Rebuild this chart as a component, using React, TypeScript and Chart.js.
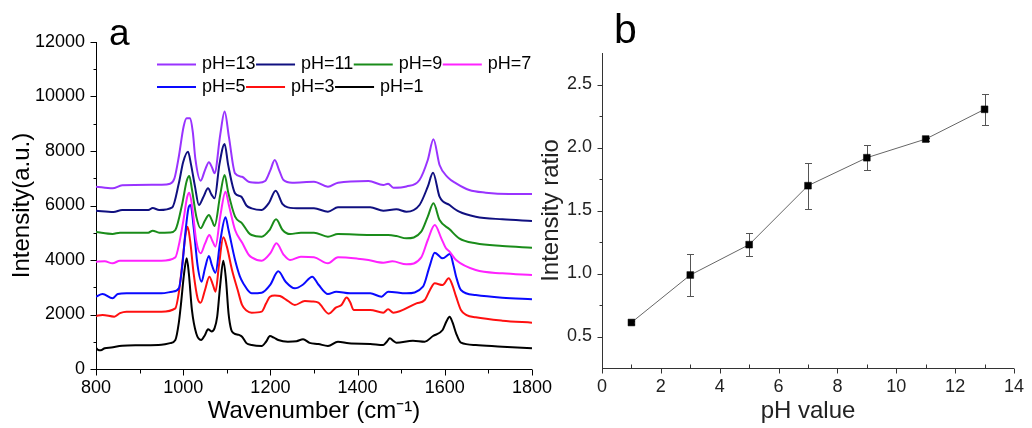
import React, { useEffect, useRef } from "react";
import { Chart, registerables } from "chart.js";
Chart.register(...registerables);

const FONT = "'Liberation Sans', Arial, Helvetica, sans-serif";

// ---------- Panel a: spectra (wavenumber, intensity) ----------
const wnPH1 = [800,805,811,820,835,860,900,950,970,982,990,995,1002,1008,1013,1020,1030,1041,1050,1057,1065,1072,1078,1085,1092,1098,1104,1110,1116,1128,1135,1145,1157,1180,1190,1199,1208,1218,1240,1260,1275,1290,1310,1332,1355,1380,1429,1459,1467,1474,1482,1489,1527,1554,1573,1595,1604,1611,1618,1626,1637,1671,1732,1800];
const intPH1 = [783,700,690,760,790,850,870,890,950,1064,1700,2400,3500,4062,3500,2166,1300,1064,1250,1456,1380,1500,1921,3100,3976,3300,2043,1450,1309,1250,1186,950,881,844,1000,1211,1150,1064,1003,1020,1089,960,918,844,1003,941,918,881,1000,1126,1030,967,1040,1003,1211,1431,1750,1921,1700,1309,967,881,820,759];

const wnPH3 = [800,815,842,855,870,950,982,990,998,1005,1010,1016,1024,1033,1040,1050,1060,1068,1074,1082,1092,1100,1112,1125,1135,1145,1157,1180,1190,1199,1210,1222,1240,1256,1279,1295,1310,1334,1350,1363,1375,1383,1391,1429,1459,1470,1482,1535,1554,1566,1577,1595,1609,1617,1626,1637,1650,1671,1732,1800];
const intPH3 = [1945,1982,1920,2050,2105,2105,2227,2800,3878,4900,5223,4700,3500,2600,2434,2900,3388,3100,2838,3800,4832,4500,3633,2900,2350,2150,2068,2105,2400,2654,2700,2678,2500,2350,2495,2480,2434,2031,2250,2350,2620,2450,2166,2166,2068,2190,2068,2410,2532,2900,3143,3082,3327,3100,2654,2166,1980,1897,1775,1701];

const wnPH5 = [800,815,838,850,870,950,975,990,998,1005,1012,1017,1024,1033,1042,1050,1059,1066,1074,1085,1097,1104,1119,1130,1138,1157,1180,1200,1218,1235,1256,1275,1296,1310,1332,1351,1383,1429,1455,1470,1512,1550,1565,1577,1595,1612,1620,1626,1637,1671,1732,1800];
const intPH5 = [2654,2752,2593,2750,2776,2776,2838,2960,3800,5000,5900,6019,5200,3800,3204,3700,4147,3800,3535,4700,5566,5100,3998,3400,3140,2776,2800,3100,3583,3200,2960,3100,3388,3100,2752,2838,2776,2776,2654,2838,2776,3020,3755,4269,4061,4220,3800,3388,2899,2715,2617,2556];

const wnPH7 = [800,820,838,855,950,982,992,1001,1009,1014,1021,1030,1040,1050,1060,1067,1074,1085,1097,1105,1119,1136,1150,1157,1180,1200,1214,1230,1245,1270,1300,1332,1355,1400,1425,1459,1480,1512,1546,1561,1577,1592,1602,1611,1626,1671,1732,1800];
const intPH7 = [3939,3950,3878,3975,3975,4098,4700,5506,6300,6471,5900,4700,4245,4600,4917,4700,4489,5600,6508,6000,5101,4612,4200,4098,3975,4250,4612,4200,3998,4122,4100,3878,4098,4050,3998,3900,3950,3841,4098,4734,5285,4795,4450,4306,3998,3631,3510,3449];

const wnPH9 = [800,838,855,920,930,945,970,982,998,1008,1014,1020,1030,1040,1050,1059,1066,1072,1085,1095,1103,1119,1135,1150,1157,1180,1198,1213,1228,1245,1270,1300,1332,1355,1429,1470,1489,1512,1546,1561,1574,1588,1611,1633,1671,1732,1800];
const intPH9 = [5028,4955,5004,5004,5077,5000,5010,5101,6079,6900,7083,6600,5600,5162,5450,5651,5450,5248,6400,7120,6500,5589,5345,5000,4917,4856,5100,5493,5100,4950,5004,5004,4856,4950,4917,4917,4880,4795,5040,5590,6081,5468,5126,4795,4612,4514,4453];

const wnPH11 = [800,840,860,920,930,945,975,990,1000,1011,1018,1027,1036,1046,1057,1065,1072,1083,1095,1103,1119,1133,1145,1157,1180,1197,1212,1228,1240,1270,1300,1332,1355,1429,1459,1489,1512,1542,1561,1573,1588,1611,1633,1671,1732,1800];
const intPH11 = [5810,5760,5834,5834,5908,5834,5932,6814,7600,7975,7500,6700,6019,6300,6630,6400,6263,7500,8258,7500,6447,6324,6000,5895,5834,6100,6545,6050,5932,5895,5895,5773,5932,5932,5810,5859,5773,6018,6691,7205,6324,6018,5773,5589,5493,5432];

const wnPH13 = [800,838,860,950,970,980,990,1001,1008,1016,1022,1028,1040,1050,1059,1066,1072,1085,1095,1105,1119,1135,1150,1173,1188,1200,1210,1220,1230,1250,1300,1332,1355,1425,1459,1470,1482,1512,1542,1561,1574,1588,1607,1626,1656,1694,1747,1800];
const intPH13 = [6692,6630,6740,6760,6800,7000,7800,8900,9200,9200,8700,7700,6911,7300,7585,7400,7185,8600,9450,8500,7177,7055,6873,6838,6900,7300,7670,7300,6936,6838,6873,6691,6838,6900,6752,6800,6655,6700,6936,7670,8429,7486,7034,6814,6569,6471,6422,6422];

const spectraLabels = ["pH=13", "pH=11", "pH=9", "pH=7", "pH=5", "pH=3", "pH=1"];
const spectraColors = ["#9933ff", "#101080", "#1a8c1a", "#ff22ff", "#0a0aff", "#ff1010", "#000000"];
const spectraWn = [wnPH13, wnPH11, wnPH9, wnPH7, wnPH5, wnPH3, wnPH1];
const spectraInt = [intPH13, intPH11, intPH9, intPH7, intPH5, intPH3, intPH1];

const ticksAX = [800, 1000, 1200, 1400, 1600, 1800];
const ticksAY = [0, 2000, 4000, 6000, 8000, 10000, 12000];

// ---------- Panel b: intensity ratio vs pH ----------
const phValues = [1, 3, 5, 7, 9, 11, 13];
const ratioValues = [0.611, 0.988, 1.229, 1.697, 1.919, 2.067, 2.303];
const ratioErrors = [0.015, 0.17, 0.093, 0.183, 0.097, 0.012, 0.125];
const ticksBX = [0, 2, 4, 6, 8, 10, 12, 14];
const ticksBY = [0.5, 1.0, 1.5, 2.0, 2.5];

type TickSpec = { major: number; minor: number; majorDir: number; minorDir: number };

function makeTickPlugin(id: string, color: string, spec: { x: TickSpec; y: TickSpec }) {
  return {
    id,
    afterDraw(chart: any) {
      const ctx = chart.ctx;
      ctx.save();
      ctx.strokeStyle = color;
      ctx.lineWidth = 1;
      (["x", "y"] as const).forEach((key) => {
        const scale = chart.scales[key];
        const sp = spec[key];
        const vals: number[] = scale.ticks.map((t: any) => t.value);
        const minors: number[] = [];
        for (let i = 0; i < vals.length - 1; i++) minors.push((vals[i] + vals[i + 1]) / 2);
        if (vals.length > 1) {
          const step = vals[1] - vals[0];
          const lo = vals[0] - step / 2;
          const hi = vals[vals.length - 1] + step / 2;
          if (lo > scale.min + 1e-9) minors.unshift(lo);
          if (hi < scale.max - 1e-9) minors.push(hi);
        }
        const drawSet = (list: number[], len: number, dir: number) => {
          list.forEach((v) => {
            const p = Math.round(scale.getPixelForValue(v)) + 0.5;
            ctx.beginPath();
            if (key === "x") {
              const y0 = Math.round(chart.chartArea.bottom) + 0.5;
              ctx.moveTo(p, y0);
              ctx.lineTo(p, y0 + dir * len);
            } else {
              const x0 = Math.round(chart.chartArea.left) + 0.5;
              ctx.moveTo(x0, p);
              ctx.lineTo(x0 - dir * len, p);
            }
            ctx.stroke();
          });
        };
        drawSet(vals, sp.major, sp.majorDir);
        drawSet(minors, sp.minor, sp.minorDir);
      });
      ctx.restore();
    },
  };
}

function makeLabelPlugin(id: string, text: string, x: number, y: number, size: number) {
  return {
    id,
    afterDraw(chart: any) {
      const ctx = chart.ctx;
      ctx.save();
      ctx.font = `${size}px ${FONT}`;
      ctx.fillStyle = "#000";
      ctx.textAlign = "left";
      ctx.textBaseline = "alphabetic";
      ctx.fillText(text, x, y);
      ctx.restore();
    },
  };
}

const inlineLegend = {
  id: "inlineLegend",
  afterDatasetsDraw(chart: any) {
    const ctx = chart.ctx;
    ctx.save();
    ctx.font = `18px ${FONT}`;
    ctx.textBaseline = "middle";
    ctx.textAlign = "left";
    const perRow = 4;
    const startX = 157;
    const rowY = [64.5, 87];
    const lineLen = 39;
    const gap = 6;
    let x = startX;
    chart.data.datasets.forEach((ds: any, i: number) => {
      const row = Math.floor(i / perRow);
      if (i % perRow === 0) x = startX;
      const y = rowY[row];
      ctx.strokeStyle = ds.borderColor;
      ctx.lineWidth = 1.8;
      ctx.beginPath();
      ctx.moveTo(x, y);
      ctx.lineTo(x + lineLen, y);
      ctx.stroke();
      ctx.fillStyle = "#000";
      const tx = x + lineLen + gap;
      ctx.fillText(ds.label, tx, y);
      x = tx + ctx.measureText(ds.label).width + 0.5;
    });
    ctx.restore();
  },
};

const errorBars = {
  id: "errorBars",
  beforeDatasetsDraw(chart: any) {
    const xs = chart.scales.x;
    const ys = chart.scales.y;
    const ctx = chart.ctx;
    ctx.save();
    ctx.strokeStyle = "#555";
    ctx.lineWidth = 1;
    phValues.forEach((ph, i) => {
      const e = ratioErrors[i];
      const x = Math.round(xs.getPixelForValue(ph)) + 0.5;
      const yt = Math.round(ys.getPixelForValue(ratioValues[i] + e)) + 0.5;
      const yb = Math.round(ys.getPixelForValue(ratioValues[i] - e)) + 0.5;
      ctx.beginPath();
      ctx.moveTo(x, yt);
      ctx.lineTo(x, yb);
      ctx.moveTo(x - 3.5, yt);
      ctx.lineTo(x + 3.5, yt);
      ctx.moveTo(x - 3.5, yb);
      ctx.lineTo(x + 3.5, yb);
      ctx.stroke();
    });
    ctx.restore();
  },
};

const setTicks = (arr: number[]) => (scale: any) => {
  scale.ticks = arr.map((v) => ({ value: v }));
};

export default function App() {
  const refA = useRef<HTMLCanvasElement | null>(null);
  const refB = useRef<HTMLCanvasElement | null>(null);

  useEffect(() => {
    if (!refA.current || !refB.current) return;

    const chartA = new Chart(refA.current, {
      type: "line",
      data: {
        datasets: spectraLabels.map((label, k) => ({
          label,
          data: spectraWn[k].map((w, i) => ({ x: w, y: spectraInt[k][i] })),
          borderColor: spectraColors[k],
          backgroundColor: spectraColors[k],
          borderWidth: 2,
          pointRadius: 0,
          cubicInterpolationMode: "monotone",
          fill: false,
        })),
      },
      options: {
        responsive: false,
        animation: false,
        devicePixelRatio: 1,
        layout: { padding: { top: 42, right: 24, left: 0, bottom: 0 } },
        plugins: { legend: { display: false }, tooltip: { enabled: false } },
        scales: {
          x: {
            type: "linear",
            min: 800,
            max: 1800,
            afterBuildTicks: setTicks(ticksAX),
            afterFit: (s: any) => { s.height = 59; },
            grid: { display: false, drawTicks: false },
            border: { display: true, color: "#000", width: 1 },
            ticks: {
              autoSkip: false, maxRotation: 0, padding: 8, color: "#000",
              font: { size: 18, family: FONT },
              callback: (v: any) => String(v),
            },
            title: {
              display: true, text: "Wavenumber (cm⁻¹)", color: "#000",
              font: { size: 24, family: FONT }, padding: { top: 0, bottom: 2 },
            },
          },
          y: {
            type: "linear",
            min: 0,
            max: 12000,
            afterBuildTicks: setTicks(ticksAY),
            afterFit: (s: any) => { s.width = 96; },
            grid: { display: false, drawTicks: false },
            border: { display: true, color: "#000", width: 1 },
            ticks: {
              autoSkip: false, padding: 11, color: "#000",
              font: { size: 18, family: FONT },
              callback: (v: any) => String(v),
            },
            title: {
              display: true, text: "Intensity(a.u.)", color: "#000",
              font: { size: 24, family: FONT }, padding: { top: 7.6, bottom: 0 },
            },
          },
        },
      } as any,
      plugins: [
        makeTickPlugin("ticksA", "#000", {
          x: { major: 6, minor: 4, majorDir: 1, minorDir: 1 },
          y: { major: 6, minor: 3, majorDir: 1, minorDir: 1 },
        }),
        inlineLegend,
        makeLabelPlugin("labelA", "a", 109, 45, 37),
      ],
    });

    const chartB = new Chart(refB.current, {
      type: "line",
      data: {
        datasets: [
          {
            label: "Intensity ratio",
            data: phValues.map((p, i) => ({ x: p, y: ratioValues[i] })),
            borderColor: "#666",
            borderWidth: 1,
            backgroundColor: "#000",
            pointBorderColor: "#000",
            pointBackgroundColor: "#000",
            pointStyle: "rect",
            pointRadius: 4.8,
            pointBorderWidth: 0.5,
            tension: 0,
            fill: false,
          },
        ],
      },
      options: {
        responsive: false,
        animation: false,
        devicePixelRatio: 1,
        layout: { padding: { top: 53, right: 9, left: 0, bottom: 0 } },
        plugins: { legend: { display: false }, tooltip: { enabled: false } },
        scales: {
          x: {
            type: "linear",
            min: 0,
            max: 14,
            afterBuildTicks: setTicks(ticksBX),
            afterFit: (s: any) => { s.height = 60; },
            grid: { display: false, drawTicks: false },
            border: { display: true, color: "#333", width: 1 },
            ticks: {
              autoSkip: false, maxRotation: 0, padding: 8, color: "#222",
              font: { size: 18, family: FONT },
              callback: (v: any) => String(v),
            },
            title: {
              display: true, text: "pH value", color: "#222",
              font: { size: 24, family: FONT }, padding: { top: 0, bottom: 2 },
            },
          },
          y: {
            type: "linear",
            min: 0.25,
            max: 2.75,
            afterBuildTicks: setTicks(ticksBY),
            afterFit: (s: any) => { s.width = 72; },
            grid: { display: false, drawTicks: false },
            border: { display: true, color: "#333", width: 1 },
            ticks: {
              autoSkip: false, padding: 10, color: "#222",
              font: { size: 18, family: FONT },
              callback: (v: any) => Number(v).toFixed(1),
            },
            title: {
              display: true, text: "Intensity ratio", color: "#222",
              font: { size: 24, family: FONT }, padding: { top: 6.6, bottom: 0 },
            },
          },
        },
      } as any,
      plugins: [
        errorBars,
        makeTickPlugin("ticksB", "#333", {
          x: { major: 5, minor: 4, majorDir: 1, minorDir: -1 },
          y: { major: 5, minor: 3, majorDir: 1, minorDir: 1 },
        }),
        makeLabelPlugin("labelB", "b", 84, 43, 41),
      ],
    });

    return () => {
      chartA.destroy();
      chartB.destroy();
    };
  }, []);

  return (
    <div style={{ position: "absolute", left: 0, top: 0, width: 1032, height: 428, background: "#fff", overflow: "hidden" }}>
      <canvas ref={refA} width={560} height={428} style={{ position: "absolute", left: 0, top: 0, width: 560, height: 428 }} />
      <canvas ref={refB} width={502} height={428} style={{ position: "absolute", left: 530, top: 0, width: 502, height: 428 }} />
    </div>
  );
}
